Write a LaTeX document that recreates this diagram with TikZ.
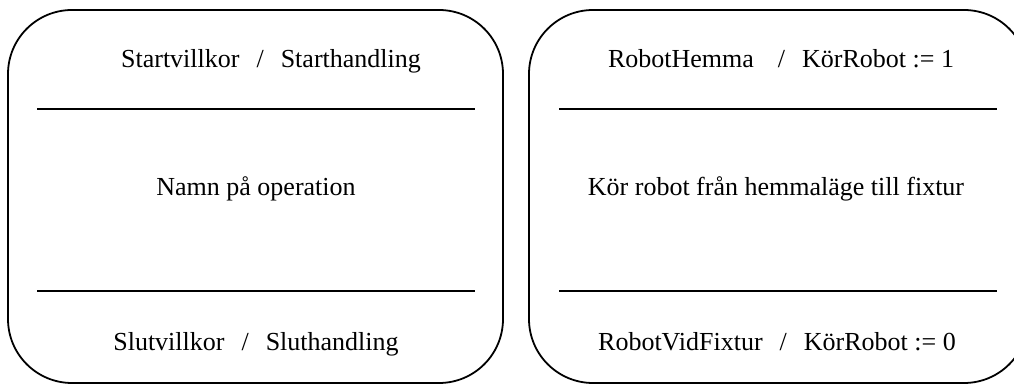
\documentclass[tikz,border=0pt]{standalone}
\usepackage{fontspec}
\setmainfont{Liberation Serif}
\begin{document}
\begin{tikzpicture}[x=1pt,y=-1pt,
  box/.style={draw=black,line width=1.8pt,rounded corners=64pt},
  sep/.style={draw=black,line width=1.8pt},
  txt/.style={anchor=base,inner sep=0pt,font=\fontsize{26}{30}\selectfont}]
\useasboundingbox (0,0) rectangle (1014,387);
\begin{scope}
\clip (0,0) rectangle (1014,387);
\draw[box] (8,10) rectangle (503,383);
\draw[box] (529,10) rectangle (1028,383);
\end{scope}
\coordinate (l1a) at (37,109); \coordinate (l1b) at (475,109);
\coordinate (l2a) at (37,291); \coordinate (l2b) at (475,291);
\coordinate (r1a) at (559,109); \coordinate (r1b) at (997,109);
\coordinate (r2a) at (559,291); \coordinate (r2b) at (997,291);
\draw[sep] (l1a) -- (l1b);
\draw[sep] (l2a) -- (l2b);
\draw[sep] (r1a) -- (r1b);
\draw[sep] (r2a) -- (r2b);
\node[txt] (lt) at (271,68) {Startvillkor\hspace{17pt}/\hspace{17pt}Starthandling};
\node[txt] (lm) at (256,196) {Namn på operation};
\node[txt] (lb) at (256,350) {Slutvillkor\hspace{17pt}/\hspace{17pt}Sluthandling};
\node[txt] (rt) at (781,68) {RobotHemma\hspace{24pt}/\hspace{17pt}KörRobot := 1};
\node[txt] (rm) at (776,196) {Kör robot från hemmaläge till fixtur};
\node[txt] (rb) at (777,350) {RobotVidFixtur\hspace{17pt}/\hspace{17pt}KörRobot := 0};
\end{tikzpicture}
\end{document}
